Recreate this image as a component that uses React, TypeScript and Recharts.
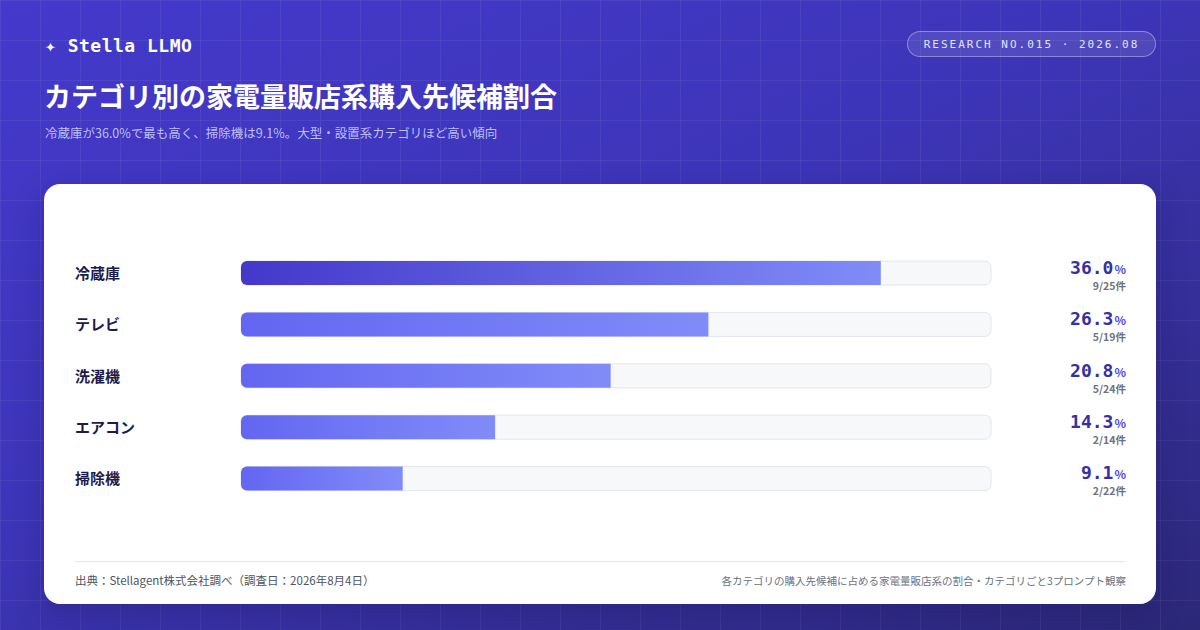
import React from 'react';
import { BarChart, Bar, XAxis, YAxis, Cell } from 'recharts';

// Share of electronics-retailer candidates per category
const categories = ['冷蔵庫', 'テレビ', '洗濯機', 'エアコン', '掃除機'];
const shares = [36.0, 26.3, 20.8, 14.3, 9.1];
const hits = [9, 5, 5, 2, 2];
const totals = [25, 19, 24, 14, 22];
const axisMax = 42.2;

const data = categories.map((name, i) => ({
  name,
  share: shares[i],
  hits: hits[i],
  total: totals[i],
}));

const MONO = '"DejaVu Sans Mono", "Liberation Mono", monospace';
const SANS = '"Noto Sans CJK JP", "Noto Sans", sans-serif';

const CategoryTick = (props: any) => {
  const { y, payload } = props;
  return (
    <text
      x={31}
      y={y}
      dy={6}
      textAnchor="start"
      fontFamily={SANS}
      fontSize={15}
      fontWeight={700}
      fill="#1e1b4b"
    >
      {payload.value}
    </text>
  );
};

const ValueTick = (props: any) => {
  const { y, payload } = props;
  const i = categories.indexOf(payload.value);
  if (i < 0) return null;
  return (
    <g>
      <text x={1082} y={y} dy={1} textAnchor="end">
        <tspan fontFamily={MONO} fontSize={18} fontWeight={700} fill="#3730a3">
          {shares[i].toFixed(1)}
        </tspan>
        <tspan fontFamily={SANS} fontSize={12} fontWeight={700} fill="#4f46e5" dx={1}>
          %
        </tspan>
      </text>
      <text
        x={1082}
        y={y}
        dy={17}
        textAnchor="end"
        fontFamily={SANS}
        fontSize={10.5}
        fontWeight={600}
        fill="#6b7280"
      >
        {`${hits[i]}/${totals[i]}件`}
      </text>
    </g>
  );
};

export default function App() {
  return (
    <div
      style={{
        position: 'absolute',
        left: 0,
        top: 0,
        width: 1200,
        height: 630,
        overflow: 'hidden',
        fontFamily: SANS,
        backgroundColor: '#3a33b0',
        backgroundImage:
          'linear-gradient(rgba(255,255,255,0.06) 1px, transparent 1px), linear-gradient(90deg, rgba(255,255,255,0.06) 1px, transparent 1px), linear-gradient(155deg, #4439cb 0%, #3d35b8 45%, #2c2878 100%)',
        backgroundSize: '40px 40px, 40px 40px, 100% 100%',
      }}
    >
      {/* header */}
      <div
        style={{
          position: 'absolute',
          left: 45,
          top: 35,
          color: '#ffffff',
          fontFamily: MONO,
          fontWeight: 700,
          fontSize: 18,
          letterSpacing: 0.5,
        }}
      >
        ✦ Stella LLMO
      </div>
      <div
        style={{
          position: 'absolute',
          left: 907,
          top: 31,
          width: 247,
          height: 24,
          borderRadius: 13,
          border: '1px solid rgba(255,255,255,0.35)',
          background: 'rgba(255,255,255,0.1)',
          color: '#e0e7ff',
          fontFamily: MONO,
          fontSize: 11,
          letterSpacing: 2,
          display: 'flex',
          alignItems: 'center',
          justifyContent: 'center',
        }}
      >
        RESEARCH NO.015 · 2026.08
      </div>
      <div
        style={{
          position: 'absolute',
          left: 44,
          top: 76,
          color: '#ffffff',
          fontSize: 27,
          fontWeight: 700,
          lineHeight: '40px',
        }}
      >
        カテゴリ別の家電量販店系購入先候補割合
      </div>
      <div
        style={{
          position: 'absolute',
          left: 45,
          top: 123,
          color: 'rgba(214,219,255,0.85)',
          fontSize: 12.5,
        }}
      >
        冷蔵庫が36.0%で最も高く、掃除機は9.1%。大型・設置系カテゴリほど高い傾向
      </div>

      {/* card */}
      <div
        style={{
          position: 'absolute',
          left: 44,
          top: 184,
          width: 1112,
          height: 420,
          borderRadius: 16,
          background: '#ffffff',
          boxShadow: '0 10px 30px rgba(20,16,80,0.25)',
        }}
      >
        <BarChart
          width={1112}
          height={340}
          data={data}
          layout="vertical"
          margin={{ top: 63, right: 0, bottom: 20, left: 0 }}
        >
          <defs>
            <linearGradient id="gradTop" x1="0" y1="0" x2="1" y2="0">
              <stop offset="0%" stopColor="#4338ca" />
              <stop offset="100%" stopColor="#818cf8" />
            </linearGradient>
            <linearGradient id="gradRest" x1="0" y1="0" x2="1" y2="0">
              <stop offset="0%" stopColor="#6366f1" />
              <stop offset="100%" stopColor="#818cf8" />
            </linearGradient>
          </defs>
          <XAxis type="number" domain={[0, axisMax]} hide />
          <YAxis
            yAxisId="left"
            type="category"
            dataKey="name"
            width={197}
            axisLine={false}
            tickLine={false}
            tick={<CategoryTick />}
          />
          <YAxis
            yAxisId="right"
            orientation="right"
            type="category"
            dataKey="name"
            width={165}
            axisLine={false}
            tickLine={false}
            tick={<ValueTick />}
          />
          <Bar
            yAxisId="left"
            dataKey="share"
            barSize={24}
            radius={[6, 0, 0, 6]}
            background={{ fill: '#f7f8fa', stroke: '#e3e6ee', strokeWidth: 1, radius: 6 }}
            isAnimationActive={false}
          >
            {data.map((d, i) => (
              <Cell key={d.name} fill={i === 0 ? 'url(#gradTop)' : 'url(#gradRest)'} />
            ))}
          </Bar>
        </BarChart>

        <div
          style={{
            position: 'absolute',
            left: 31,
            right: 30,
            top: 377,
            borderTop: '1px solid #e5e7eb',
          }}
        />
        <div
          style={{
            position: 'absolute',
            left: 31,
            top: 388,
            fontSize: 11.5,
            color: '#4b5563',
          }}
        >
          出典：Stellagent株式会社調べ（調査日：2026年8月4日）
        </div>
        <div
          style={{
            position: 'absolute',
            right: 30,
            top: 389,
            fontSize: 10.5,
            color: '#6b7280',
          }}
        >
          各カテゴリの購入先候補に占める家電量販店系の割合・カテゴリごと3プロンプト観察
        </div>
      </div>
    </div>
  );
}
